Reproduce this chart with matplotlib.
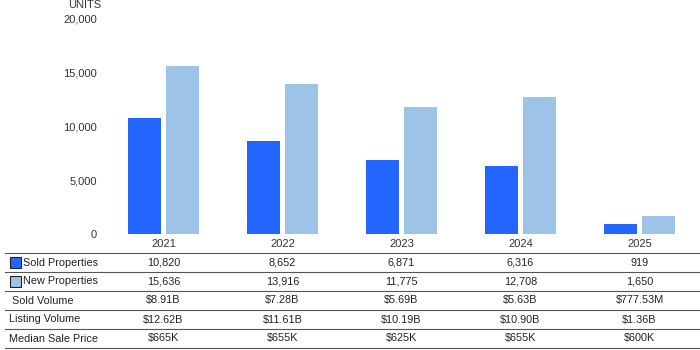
import matplotlib.pyplot as plt
import matplotlib.transforms as mtransforms
from matplotlib.lines import Line2D
from matplotlib.patches import Rectangle
import numpy as np

plt.rcParams['font.family'] = ['Liberation Sans', 'DejaVu Sans']

# dados
anos = ['2021', '2022', '2023', '2024', '2025']
sold_properties = [10820, 8652, 6871, 6316, 919]
new_properties = [15636, 13916, 11775, 12708, 1650]
sold_volume = ['$8.91B', '$7.28B', '$5.69B', '$5.63B', '$777.53M']
listing_volume = ['$12.62B', '$11.61B', '$10.19B', '$10.90B', '$1.36B']
median_price = ['$665K', '$655K', '$625K', '$655K', '$600K']

cor_sold = '#2366ff'
cor_new = '#9dc3e6'
cor_texto = '#333333'

W, H = 700, 350
fig = plt.figure(figsize=(7, 3.5), dpi=100)
fig.patch.set_facecolor('white')

# area do grafico em pixels
x0, x1 = 104, 699
y_zero, y_top = 234, 19
ax = fig.add_axes([x0 / W, 1 - y_zero / H, (x1 - x0) / W, (y_zero - y_top) / H])

idx = np.arange(len(anos))
largura = 33 / 119
desloc = 19 / 119
ax.bar(idx - desloc, sold_properties, largura, color=cor_sold)
ax.bar(idx + desloc, new_properties, largura, color=cor_new)

ax.set_xlim(-0.5, len(anos) - 0.5)
ax.set_ylim(0, 20000)
ax.set_yticks([0, 5000, 10000, 15000, 20000])
ax.set_yticklabels(['0', '5,000', '10,000', '15,000', '20,000'])
ax.tick_params(axis='y', length=0, pad=5, labelsize=8, labelcolor=cor_texto)
ax.set_xticks([])
for s in ax.spines.values():
    s.set_visible(False)

fig.text(101 / W, 1 - 5 / H, 'UNITS', ha='right', va='center', fontsize=8, color=cor_texto)

# tabela abaixo do grafico
trans = mtransforms.blended_transform_factory(ax.transData, fig.transFigure)
def fy(py):
    return 1 - py / H

for i, a in enumerate(anos):
    ax.text(i, fy(244), a, transform=trans, ha='center', va='center', fontsize=8, color=cor_texto)

linhas = [
    ('Sold Properties', [f'{v:,}' for v in sold_properties], cor_sold),
    ('New Properties', [f'{v:,}' for v in new_properties], cor_new),
    ('Sold Volume', sold_volume, None),
    ('Listing Volume', listing_volume, None),
    ('Median Sale Price', median_price, None),
]

topo = 253
altura = 19
for r, (nome, valores, cor) in enumerate(linhas):
    yc = topo + altura * r + altura / 2
    if cor is not None:
        fig.add_artist(Rectangle((10 / W, fy(yc + 5.5)), 11 / W, 11 / H,
                                 facecolor=cor, edgecolor='#222222', linewidth=0.8,
                                 transform=fig.transFigure))
        fig.text(23 / W, fy(yc), nome, ha='left', va='center', fontsize=7.8, color='#222222')
    else:
        xl = 12 if nome == 'Sold Volume' else 9
        fig.text(xl / W, fy(yc), nome, ha='left', va='center', fontsize=7.8, color='#222222')
    for i, v in enumerate(valores):
        ax.text(i, fy(yc), v, transform=trans, ha='center', va='center', fontsize=7.8, color='#222222')

for r in range(len(linhas) + 1):
    yl = fy(topo + altura * r)
    fig.add_artist(Line2D([5 / W, 1], [yl, yl], color='#555555', linewidth=0.8,
                          transform=fig.transFigure))

fig.savefig('out.png', dpi=100, facecolor='white')
